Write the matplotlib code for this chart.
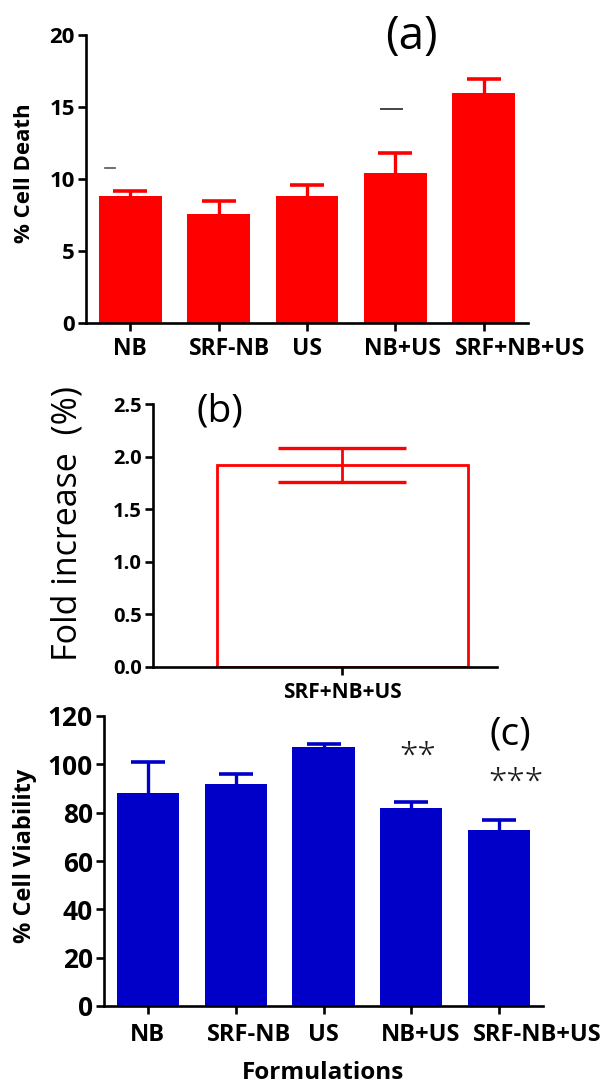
import matplotlib
matplotlib.use("Agg")
import matplotlib.pyplot as plt
import matplotlib.transforms as mtransforms
import numpy as np

plt.rcParams['font.family'] = ['Open Sans', 'DejaVu Sans']

# ---------------- data ----------------
cats_a = ["NB", "SRF-NB", "US", "NB+US", "SRF+NB+US"]
death_mean = [8.8, 7.6, 8.8, 10.42, 15.97]
death_err = [0.37, 0.87, 0.8, 1.38, 0.97]

cats_b = ["SRF+NB+US"]
fold_mean = [1.92]
fold_err = [0.16]

cats_c = ["NB", "SRF-NB", "US", "NB+US", "SRF-NB+US"]
viab_mean = [88.0, 92.0, 107.0, 81.8, 72.7]
viab_err = [12.8, 3.9, 1.6, 2.5, 4.2]
viab_sig = ["", "", "", "**", "***"]

yticks_a = [0, 5, 10, 15, 20]
yticks_b = [0.0, 0.5, 1.0, 1.5, 2.0, 2.5]
yticks_c = [0, 20, 40, 60, 80, 100, 120]

RED = "#FF0000"
BLUE = "#0000C8"

fig = plt.figure(figsize=(6.12, 10.86), dpi=100)


def px_to_fig(l, r, t, b):
    W, H = 612.0, 1086.0
    return [l / W, 1 - b / H, (r - l) / W, (b - t) / H]


def style_axes(ax, lw=1.9):
    for s in ["top", "right"]:
        ax.spines[s].set_visible(False)
    for s in ["left", "bottom"]:
        ax.spines[s].set_linewidth(lw)
    ax.tick_params(axis="both", width=lw, length=6, direction="out")


def offset_labels(ax, offsets_px):
    for lab, dx in zip(ax.get_xticklabels(), offsets_px):
        lab.set_transform(lab.get_transform() +
                          mtransforms.ScaledTranslation(dx / 100.0, 0, fig.dpi_scale_trans))


def upper_errorbars(ax, x, y, err, color, capsize):
    eb = ax.errorbar(x, y, yerr=[np.zeros(len(x)), err], fmt="none",
                     ecolor=color, elinewidth=2.4, capsize=capsize, capthick=2.6, zorder=3)
    caps = eb[1]
    if len(caps) == 2:
        caps[0].set_visible(False)
    return eb


# ---------------- panel (a) ----------------
ax1 = fig.add_axes(px_to_fig(86, 528, 35, 323))
xa = np.arange(len(cats_a))
ax1.bar(xa, death_mean, width=0.71, color=RED, zorder=2)
upper_errorbars(ax1, xa, death_mean, death_err, RED, 12)
ax1.set_xlim(-0.5, 4.5)
ax1.set_ylim(0, 20)
ax1.set_yticks(yticks_a)
ax1.set_yticklabels([str(v) for v in yticks_a], fontsize=16, fontweight="bold")
ax1.set_xticks(xa)
ax1.set_xticklabels(cats_a, fontsize=16.5, fontweight="bold")
style_axes(ax1)
ax1.tick_params(axis="x", pad=4)
ax1.tick_params(axis="y", pad=2)
offset_labels(ax1, [0, 11, 0, 7, 36])
ax1.set_ylabel("% Cell Death", fontsize=16, fontweight="bold", va="center")
ax1.yaxis.set_label_coords(-0.14, 0.52)
# faint stray marks present in the original figure
ax1.plot([-0.28, -0.17], [10.76, 10.76], color="#555555", lw=1.2, zorder=4)
ax1.plot([2.84, 3.08], [14.86, 14.86], color="#444444", lw=1.4, zorder=4)

# ---------------- panel (b) ----------------
ax2 = fig.add_axes(px_to_fig(153, 497, 404, 667))
xb = np.arange(len(cats_b))
ax2.bar(xb, fold_mean, width=0.7, facecolor="white", edgecolor=RED, linewidth=2.0, zorder=2)
ax2.errorbar(xb, fold_mean, yerr=fold_err, fmt="none", ecolor=RED,
             elinewidth=2.0, capsize=46, capthick=2.4, zorder=3)
ax2.set_xlim(-0.528, 0.431)
ax2.set_ylim(0, 2.5)
ax2.set_yticks(yticks_b)
ax2.set_yticklabels([f"{v:.1f}" for v in yticks_b], fontsize=14.5, fontweight="bold")
ax2.set_xticks(xb)
ax2.set_xticklabels(cats_b, fontsize=15, fontweight="bold")
style_axes(ax2)
ax2.tick_params(axis="x", pad=5)
ax2.tick_params(axis="y", pad=2)
ax2.set_ylabel("Fold increase  (%)", fontsize=24.5, va="center")
ax2.yaxis.set_label_coords(-0.25, 0.544)

# ---------------- panel (c) ----------------
ax3 = fig.add_axes(px_to_fig(104, 543, 716, 1006))
xc = np.arange(len(cats_c))
ax3.bar(xc, viab_mean, width=0.71, color=BLUE, zorder=2)
upper_errorbars(ax3, xc, viab_mean, viab_err, BLUE, 12)
ax3.set_xlim(-0.5, 4.5)
ax3.set_ylim(0, 120)
ax3.set_yticks(yticks_c)
ax3.set_yticklabels([str(v) for v in yticks_c], fontsize=19, fontweight="bold")
ax3.set_xticks(xc)
ax3.set_xticklabels(cats_c, fontsize=17, fontweight="bold")
style_axes(ax3)
ax3.tick_params(axis="x", pad=6)
ax3.tick_params(axis="y", pad=2)
offset_labels(ax3, [0, 13, 0, 9, 38])
ax3.set_ylabel("% Cell Viability", fontsize=17, fontweight="bold", va="center")
ax3.yaxis.set_label_coords(-0.18, 0.517)
ax3.set_xlabel("Formulations", fontsize=17.5, fontweight="bold", labelpad=10)
star_dx = [0, 0, 0, 0.07, 0.19]
star_y = [0, 0, 0, 102.9, 92.1]
for i, s in enumerate(viab_sig):
    if s:
        ax3.text(xc[i] + star_dx[i], star_y[i], s, ha="center", va="center",
                 fontsize=24, color="#1a1a1a", fontweight="light")

# ---------------- panel letters ----------------
fig.text(411 / 612, 1 - 37 / 1086, "(a)", fontsize=33, ha="center", va="center")
fig.text(220 / 612, 1 - 412 / 1086, "(b)", fontsize=28, ha="center", va="center")
fig.text(510 / 612, 1 - 735 / 1086, "(c)", fontsize=28, ha="center", va="center")

fig.savefig("out.png", dpi=100)
